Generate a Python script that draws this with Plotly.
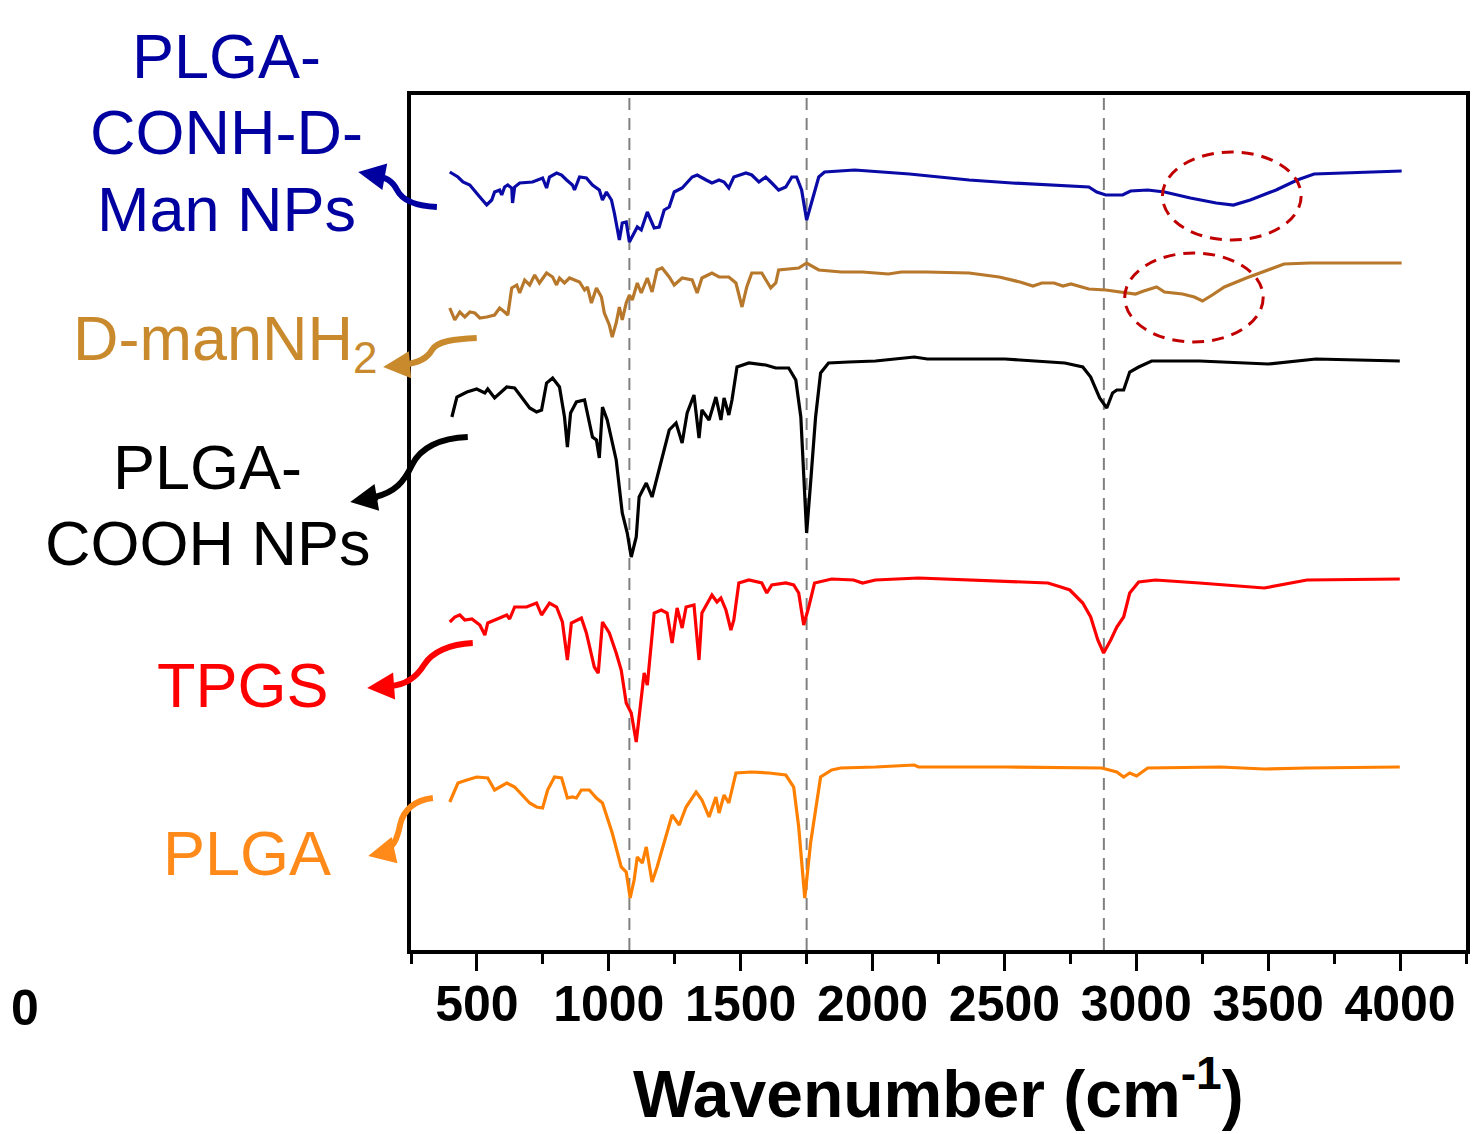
import plotly.graph_objects as go

# ---------------- data (wavenumber cm-1, offset transmittance a.u.) ----------------
man_np_x = [397, 428, 447, 473, 511, 537, 556, 567, 586, 594, 605, 617, 632, 635, 643, 662, 711, 749, 764, 775,
            802, 821, 840, 862, 870, 889, 915, 938, 964, 976, 991, 1010, 1021, 1032, 1040, 1051, 1066, 1078, 1089,
            1108, 1123, 1146, 1172, 1191, 1210, 1229, 1248, 1278, 1316, 1335, 1369, 1391, 1418, 1437, 1455, 1474,
            1520, 1542, 1569, 1595, 1618, 1644, 1671, 1694, 1712, 1731, 1750, 1769, 1796, 1818, 1932, 2140, 2366,
            2529, 2688, 2820, 2850, 2884, 2948, 2978, 3043, 3107, 3205, 3303, 3368, 3432, 3530, 3610, 3674, 3821, 4006]
man_np_y = [77.8, 77.3, 76.8, 76.5, 75.3, 74.5, 75.0, 75.8, 76.0, 75.5, 76.3, 76.5, 76.2, 74.7, 76.3, 76.7, 76.8,
            77.2, 76.2, 77.3, 77.7, 77.5, 77.0, 76.5, 76.0, 77.3, 77.2, 76.5, 76.0, 75.0, 75.8, 75.0, 73.7, 72.0,
            71.0, 72.7, 72.8, 70.8, 71.3, 72.3, 72.0, 73.8, 72.2, 72.3, 74.0, 74.3, 75.8, 76.2, 77.3, 77.5, 77.0,
            76.7, 77.0, 76.8, 76.2, 77.3, 77.7, 77.5, 76.8, 77.3, 76.7, 76.0, 76.3, 77.3, 77.3, 76.0, 73.0, 74.7,
            77.3, 77.8, 78.0, 77.6, 77.0, 76.7, 76.5, 76.3, 75.8, 75.5, 75.5, 75.9, 76.0, 75.8, 75.2, 74.7, 74.5,
            75.0, 76.0, 77.0, 77.6, 77.7, 77.9]

mannh2_x = [397, 416, 435, 454, 473, 492, 511, 537, 567, 586, 605, 617, 632, 651, 662, 681, 700, 719, 737, 764,
            787, 802, 813, 832, 851, 889, 908, 919, 934, 953, 972, 983, 1002, 1013, 1028, 1040, 1051, 1066, 1078,
            1089, 1108, 1123, 1146, 1164, 1183, 1202, 1229, 1248, 1278, 1316, 1335, 1353, 1391, 1418, 1455, 1482,
            1505, 1523, 1542, 1580, 1614, 1633, 1644, 1720, 1750, 1796, 1882, 1962, 2060, 2109, 2204, 2366, 2480,
            2559, 2608, 2642, 2688, 2722, 2752, 2820, 2884, 2948, 2997, 3028, 3077, 3107, 3175, 3220, 3251, 3288,
            3334, 3417, 3496, 3560, 3659, 4006]
mannh2_y = [64.2, 63.0, 63.8, 63.3, 63.8, 63.7, 63.2, 63.3, 63.5, 64.2, 63.8, 63.5, 66.2, 66.5, 65.7, 67.0, 66.5,
            67.5, 66.7, 67.7, 67.3, 66.5, 67.2, 66.7, 67.2, 66.8, 66.0, 66.3, 64.7, 66.2, 65.3, 63.7, 62.5, 61.3,
            62.7, 64.3, 63.0, 64.7, 65.5, 65.0, 66.7, 65.7, 67.2, 65.8, 68.0, 68.2, 67.3, 66.5, 67.2, 67.0, 65.7,
            67.2, 67.7, 67.3, 67.3, 66.7, 64.3, 66.3, 67.7, 67.7, 66.2, 66.7, 68.0, 68.2, 68.7, 68.0, 67.8, 67.8,
            67.6, 67.8, 67.8, 67.7, 67.3, 66.8, 66.4, 66.7, 66.7, 66.4, 66.6, 66.1, 66.0, 65.8, 65.6, 65.9, 66.3,
            65.8, 65.6, 65.3, 64.9, 65.5, 66.3, 67.2, 68.0, 68.6, 68.7, 68.7]

cooh_np_x = [405, 424, 462, 499, 530, 541, 567, 613, 643, 700, 726, 745, 764, 787, 813, 832, 843, 855, 877, 908,
             938, 953, 964, 976, 994, 1028, 1051, 1070, 1085, 1104, 1115, 1142, 1164, 1202, 1229, 1255, 1278, 1297,
             1323, 1342, 1353, 1380, 1406, 1425, 1437, 1455, 1467, 1486, 1531, 1595, 1633, 1682, 1709, 1728, 1739,
             1750, 1765, 1784, 1803, 1833, 1909, 2011, 2158, 2208, 2502, 2729, 2797, 2827, 2861, 2888, 2910, 2926,
             2952, 2975, 3009, 3058, 3239, 3500, 3681, 3999]
cooh_np_y = [53.3, 55.3, 55.8, 56.1, 55.7, 56.1, 55.2, 56.3, 56.2, 54.2, 53.8, 54.0, 56.7, 57.2, 56.3, 53.3, 50.3,
             53.7, 54.8, 55.0, 51.3, 51.0, 49.2, 54.3, 53.0, 49.0, 43.7, 41.7, 39.3, 41.3, 45.3, 46.7, 45.3, 49.3,
             52.0, 52.7, 50.7, 53.7, 55.5, 51.2, 54.0, 53.0, 55.3, 53.0, 55.2, 53.5, 55.0, 58.3, 58.7, 58.5, 58.2,
             58.2, 57.0, 53.3, 47.3, 41.7, 46.7, 53.3, 57.7, 58.7, 58.8, 58.9, 59.3, 59.1, 59.1, 58.7, 58.3, 57.3,
             55.2, 54.2, 55.7, 56.0, 56.0, 57.8, 58.3, 58.9, 58.9, 58.6, 59.1, 58.9]

tpgs_x = [397, 416, 435, 454, 481, 511, 530, 541, 586, 613, 624, 643, 688, 726, 745, 775, 802, 824, 843, 858, 896,
          915, 945, 960, 976, 1002, 1028, 1047, 1066, 1085, 1104, 1123, 1134, 1146, 1172, 1199, 1221, 1240, 1259,
          1278, 1293, 1323, 1342, 1353, 1391, 1410, 1425, 1444, 1463, 1474, 1493, 1531, 1580, 1599, 1618, 1671,
          1701, 1720, 1739, 1758, 1780, 1845, 1928, 1962, 2011, 2174, 2502, 2665, 2714, 2748, 2797, 2827, 2854,
          2876, 2903, 2926, 2952, 2975, 3009, 3073, 3239, 3485, 3647, 3999]
tpgs_y = [32.8, 33.3, 33.5, 33.0, 33.1, 32.5, 31.5, 32.7, 33.2, 33.5, 33.1, 34.3, 34.3, 34.7, 33.5, 34.7, 34.3,
          32.8, 29.0, 32.7, 33.2, 31.7, 28.3, 27.7, 32.8, 31.7, 29.7, 28.0, 24.7, 23.7, 20.8, 25.0, 27.7, 26.5,
          33.7, 34.0, 33.7, 30.7, 34.2, 32.2, 34.3, 34.5, 29.0, 33.7, 35.5, 34.8, 35.2, 34.0, 32.0, 33.0, 36.7,
          37.0, 36.7, 35.7, 36.5, 36.7, 36.5, 35.7, 32.5, 34.3, 36.7, 37.1, 37.0, 36.7, 37.0, 37.2, 36.9, 36.7,
          36.3, 36.0, 34.7, 33.3, 31.0, 29.7, 31.0, 32.3, 33.3, 35.7, 36.8, 37.0, 36.7, 36.2, 37.0, 37.1]

plga_x = [397, 416, 428, 462, 499, 541, 567, 613, 643, 700, 726, 749, 768, 794, 821, 843, 862, 877, 896, 926, 953,
          976, 1013, 1047, 1066, 1081, 1096, 1108, 1127, 1142, 1153, 1164, 1183, 1217, 1240, 1267, 1293, 1331,
          1353, 1380, 1406, 1418, 1437, 1455, 1482, 1542, 1607, 1671, 1701, 1720, 1743, 1765, 1803, 1845, 1879,
          2011, 2158, 2174, 2502, 2869, 2926, 2952, 2975, 3001, 3043, 3319, 3485, 3647, 3999]
plga_y = [14.8, 16.0, 16.7, 17.0, 17.3, 17.2, 16.0, 16.7, 16.3, 14.7, 14.3, 14.2, 16.0, 17.3, 17.2, 15.2, 15.3,
          15.2, 16.0, 16.0, 15.2, 14.7, 11.7, 8.3, 7.8, 5.2, 7.0, 9.3, 8.7, 10.3, 8.7, 6.8, 8.3, 11.3, 13.5, 12.5,
          14.3, 15.8, 15.0, 13.3, 15.3, 13.7, 15.5, 14.7, 17.7, 17.8, 17.7, 17.5, 16.3, 12.3, 5.2, 10.7, 17.3,
          18.0, 18.2, 18.3, 18.5, 18.3, 18.3, 18.2, 17.8, 17.3, 17.7, 17.4, 18.2, 18.3, 18.1, 18.2, 18.3]

series_names = ["PLGA-CONH-D-Man NPs", "D-manNH2", "PLGA-COOH NPs", "TPGS", "PLGA"]
series_colors = ["#0A0AA6", "#B8782C", "#000000", "#FF0000", "#FF8000"]
series_x = [man_np_x, mannh2_x, cooh_np_x, tpgs_x, plga_x]
series_y = [man_np_y, mannh2_y, cooh_np_y, tpgs_y, plga_y]

marker_lines = [1078, 1750, 2877]          # dashed reference wavenumbers
highlight_x = [[3099, 3625], [2956, 3481]]  # dashed ellipses (wavenumber span)
highlight_y = [[71.0, 79.8], [60.8, 69.7]]

major_ticks = [500, 1000, 1500, 2000, 2500, 3000, 3500, 4000]
x_range = [250, 4250]
y_range = [0, 85.5]

# ---------------- figure ----------------
OFF = 8                      # page body margin of the html page
PAGE_W, PAGE_H = 1478, 1134
W, H = PAGE_W - OFF, PAGE_H - OFF
L, R, T, B = 411 - OFF, 8, 95 - OFF, 184
PW, PH = W - L - R, H - T - B


def pp(X, Y):
    """page pixel -> paper fraction (for decorations only)"""
    return (X - OFF - L) / PW, (H - B - (Y - OFF)) / PH


fig = go.Figure()
for nm, c, xs, ys in zip(series_names, series_colors, series_x, series_y):
    fig.add_trace(go.Scatter(x=xs, y=ys, mode="lines", name=nm,
                             line=dict(color=c, width=3.2), showlegend=False))

for wv in marker_lines:
    fig.add_shape(type="line", xref="x", yref="paper", x0=wv, x1=wv, y0=0, y1=1,
                  line=dict(color="#808080", width=2, dash="12px,8px"), layer="below")

for (xa, xb), (ya, yb) in zip(highlight_x, highlight_y):
    fig.add_shape(type="circle", xref="x", yref="y", x0=xa, x1=xb, y0=ya, y1=yb,
                  line=dict(color="#C00000", width=3, dash="12px,8px"))

# labels
labels = [
    ("PLGA-", 226, 56, "#0000A0"),
    ("CONH-D-", 226, 132, "#0000A0"),
    ("Man NPs", 226, 209, "#0000A0"),
    ("D-manNH<sub>2</sub>", 225, 342, "#C98A2E"),
    ("PLGA-", 207, 467, "#000000"),
    ("COOH NPs", 207, 543, "#000000"),
    ("TPGS", 242, 685, "#FF0000"),
    ("PLGA", 246, 853, "#FF8A1A"),
]
for txt, X, Y, col in labels:
    px_, py_ = pp(X, Y)
    fig.add_annotation(x=px_, y=py_, xref="paper", yref="paper", text=txt, showarrow=False,
                       xanchor="center", yanchor="middle",
                       font=dict(family="Liberation Sans", size=63, color=col))

# curved arrows (decorative pointers)
arrows = [
    ("#0000A0", [(437, 207), (415, 206), (402, 200), (397, 190), (392, 180), (385, 177), (376, 176)], (358, 172)),
    ("#C98A2E", [(477, 338), (455, 339), (437, 341), (432, 350), (427, 359), (418, 363), (403, 365)], (383, 367)),
    ("#000000", [(468, 437), (440, 438), (420, 448), (412, 465), (404, 482), (395, 492), (375, 497)], (350, 502)),
    ("#FF0000", [(473, 643), (450, 644), (432, 652), (424, 665), (416, 678), (405, 685), (390, 686)], (367, 688)),
    ("#FF8A1A", [(433, 798), (415, 800), (403, 810), (400, 825), (397, 840), (393, 848), (382, 852)], (368, 856)),
]
for col, pts, tip in arrows:
    q = [pp(*p) for p in pts]
    path = "M {:.5f},{:.5f} C {:.5f},{:.5f} {:.5f},{:.5f} {:.5f},{:.5f} C {:.5f},{:.5f} {:.5f},{:.5f} {:.5f},{:.5f}".format(
        *[v for pt in q for v in pt])
    fig.add_shape(type="path", xref="paper", yref="paper", path=path,
                  line=dict(color=col, width=6))
    tx, ty = pp(*tip)
    end = pts[-1]
    fig.add_annotation(x=tx, y=ty, xref="paper", yref="paper", text="", showarrow=True,
                       ax=end[0] - tip[0] + 4, ay=end[1] - tip[1], arrowhead=2, arrowsize=0.9,
                       arrowwidth=6, arrowcolor=col)

# axis title
tx, ty = pp(940, 1089)
fig.add_annotation(x=0.5, y=ty, xref="paper", yref="paper", showarrow=False,
                   text="Wavenumber (cm<sup>-1</sup>)", xanchor="center", yanchor="middle",
                   font=dict(family="Liberation Sans", size=66, color="black", weight="bold"))

# cropped neighbour tick label
zx, zy = pp(24, 1008)
fig.add_annotation(x=zx, y=zy, xref="paper", yref="paper", showarrow=False, text="0",
                   xanchor="center", yanchor="middle",
                   font=dict(family="Liberation Sans", size=50, color="black", weight="bold"))

fig.update_layout(
    width=W, height=H, margin=dict(l=L, r=R, t=T, b=B),
    plot_bgcolor="white", paper_bgcolor="white",
    xaxis=dict(range=x_range, tickvals=major_ticks, ticks="outside", ticklen=17, tickwidth=3,
               tickcolor="black", showline=True, linewidth=4, linecolor="black", mirror=True,
               showgrid=False, zeroline=False, ticklabelstandoff=-10,
               tickfont=dict(family="Liberation Sans", size=50, color="black", weight="bold"),
               minor=dict(tick0=250, dtick=250, ticks="outside", ticklen=10, tickwidth=3, tickcolor="black")),
    yaxis=dict(range=y_range, showticklabels=False, ticks="", showline=True, linewidth=4,
               linecolor="black", mirror=True, showgrid=False, zeroline=False),
)

fig.write_html("out.html")
